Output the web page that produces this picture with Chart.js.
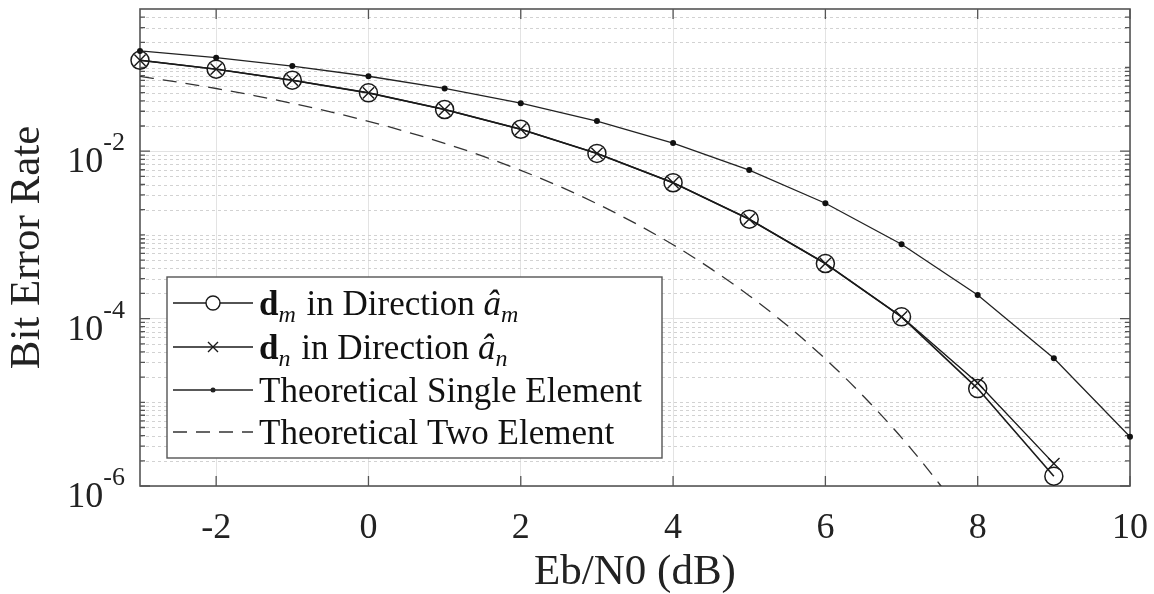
<!DOCTYPE html>
<html>
<head>
<meta charset="utf-8">
<script src="https://cdn.jsdelivr.net/npm/chart.js@4/dist/chart.umd.min.js"></script>
<style>
  html, body { margin: 0; padding: 0; background: #fff; overflow: hidden; }
  #wrap { position: relative; width: 1154px; height: 594px; }
</style>
</head>
<body>
<div id="wrap"><canvas id="berChart"></canvas></div>
<script>
// Eb/N0 points (dB)
const ebn0 = [-3, -2, -1, 0, 1, 2, 3, 4, 5, 6, 7, 8, 9, 10];
// simulated BER (-3 .. 9 dB)
const dmBer = [0.122, 0.0955, 0.0705, 0.0498, 0.0315, 0.0183, 0.0094, 0.0042, 0.00154, 4.55e-4, 1.05e-4, 1.46e-5, 1.31e-6];
const dnBer = [0.122, 0.0955, 0.0705, 0.0498, 0.0315, 0.0183, 0.0094, 0.0042, 0.00154, 4.55e-4, 1.05e-4, 1.7e-5, 1.85e-6];
// theoretical single element (-3 .. 10 dB)
const singleBer = [0.158, 0.131, 0.104, 0.0786, 0.0563, 0.0375, 0.0229, 0.0125, 0.00595, 0.00239, 7.73e-4, 1.91e-4, 3.36e-5, 3.87e-6];
// theoretical two element curve
const twoX = [-3, -2.5, -2, -1.5, -1, -0.5, 0, 0.5, 1, 1.5, 2, 2.5, 3, 3.5, 4, 4.5, 5, 5.5, 6, 6.5, 7, 7.5, 8];
const twoBer = [0.0784, 0.0668, 0.0561, 0.0462, 0.0373, 0.0295, 0.02275, 0.01707, 0.01242, 0.00873, 0.0059, 0.00383, 0.00236, 0.00138, 7.63e-4, 3.93e-4, 1.88e-4, 8.25e-5, 3.3e-5, 1.18e-5, 3.78e-6, 1.05e-6, 2.53e-7];

const xTicks = [-2, 0, 2, 4, 6, 8, 10];
const yTicks = [1e-6, 1e-4, 1e-2];
const yTickExp = ['-6', '-4', '-2'];
const yMin = 1e-6, yMax = 0.5;

const serif = "'Liberation Serif', 'Times New Roman', serif";
const pts = (xs, ys) => ys.map((v, i) => ({ x: xs[i], y: v }));

const berFrame = {
  id: 'berFrame',
  beforeDatasetsDraw(chart) {
    const { ctx, chartArea: a, scales: { x, y } } = chart;
    ctx.save();
    // dotted minor grid
    const minors = [];
    for (let e = -6; e <= -1; e++) {
      for (let k = 1; k <= 9; k++) {
        const v = k * Math.pow(10, e);
        if (v >= yMax * 0.999) continue;
        if (k === 1 && e % 2 === 0) continue;
        minors.push(v);
      }
    }
    ctx.strokeStyle = '#d2d2d2';
    ctx.lineWidth = 1;
    ctx.setLineDash([3, 3]);
    minors.forEach(v => {
      const py = Math.round(y.getPixelForValue(v)) + 0.5;
      ctx.beginPath(); ctx.moveTo(a.left, py); ctx.lineTo(a.right, py); ctx.stroke();
    });
    ctx.setLineDash([]);
    // inward ticks
    ctx.strokeStyle = '#555';
    ctx.lineWidth = 1.3;
    const tick = (v, len) => {
      const py = y.getPixelForValue(v);
      ctx.beginPath();
      ctx.moveTo(a.left, py); ctx.lineTo(a.left + len, py);
      ctx.moveTo(a.right, py); ctx.lineTo(a.right - len, py);
      ctx.stroke();
    };
    minors.forEach(v => tick(v, 5));
    yTicks.forEach(v => tick(v, 10));
    xTicks.forEach(v => {
      const px = x.getPixelForValue(v);
      ctx.beginPath();
      ctx.moveTo(px, a.bottom); ctx.lineTo(px, a.bottom - 10);
      ctx.moveTo(px, a.top); ctx.lineTo(px, a.top + 10);
      ctx.stroke();
    });
    // box
    ctx.lineWidth = 1.6;
    ctx.strokeRect(a.left, a.top, a.right - a.left, a.bottom - a.top);
    // y tick labels with superscripts
    ctx.fillStyle = '#222';
    ctx.textBaseline = 'alphabetic';
    ctx.textAlign = 'right';
    yTicks.forEach((v, i) => {
      const py = y.getPixelForValue(v);
      const rx = a.left - 15;
      ctx.font = '26px ' + serif;
      const sw = ctx.measureText(yTickExp[i]).width;
      ctx.fillText(yTickExp[i], rx, py - 1);
      ctx.font = '36px ' + serif;
      ctx.fillText('10', rx - sw, py + 21);
    });
    ctx.restore();
  },
  afterDatasetsDraw(chart) {
    const { ctx, chartArea: a } = chart;
    ctx.save();
    const bx = a.left + 27, by = 277, bw = 495, bh = 181;
    ctx.fillStyle = '#fff';
    ctx.fillRect(bx, by, bw, bh);
    ctx.strokeStyle = '#555';
    ctx.lineWidth = 1.4;
    ctx.strokeRect(bx, by, bw, bh);
    const rowY = [303, 347, 390, 432];
    const lx0 = bx + 6, lx1 = bx + 86, mx = bx + 46, tx = bx + 92;
    chart.data.datasets.forEach((ds, i) => {
      const cy = rowY[i];
      ctx.strokeStyle = ds.borderColor;
      ctx.lineWidth = ds.borderWidth;
      ctx.setLineDash(ds.borderDash || []);
      ctx.beginPath(); ctx.moveTo(lx0, cy); ctx.lineTo(lx1, cy); ctx.stroke();
      ctx.setLineDash([]);
      ctx.lineWidth = 1.4;
      if (ds.pointStyle === 'circle' && ds.pointRadius > 4) {
        ctx.fillStyle = '#fff';
        ctx.beginPath(); ctx.arc(mx, cy, 7, 0, Math.PI * 2); ctx.fill(); ctx.stroke();
      } else if (ds.pointStyle === 'crossRot') {
        ctx.beginPath();
        ctx.moveTo(mx - 5, cy - 5); ctx.lineTo(mx + 5, cy + 5);
        ctx.moveTo(mx - 5, cy + 5); ctx.lineTo(mx + 5, cy - 5);
        ctx.stroke();
      } else if (ds.pointRadius > 0) {
        ctx.fillStyle = ds.borderColor;
        ctx.beginPath(); ctx.arc(mx, cy, 2.5, 0, Math.PI * 2); ctx.fill();
      }
      // label text
      ctx.fillStyle = '#111';
      ctx.textAlign = 'left';
      ctx.textBaseline = 'alphabetic';
      let cx = tx;
      const base = cy + 12;
      const parts = ds.richLabel || [{ t: ds.label, f: '35px ' + serif, dy: 0 }];
      parts.forEach(p => {
        ctx.font = p.f;
        ctx.fillText(p.t, cx, base + p.dy);
        cx += ctx.measureText(p.t).width + (p.gap || 0);
      });
    });
    ctx.restore();
  }
};

const sub = (s) => ({ t: s, f: 'italic 24px ' + serif, dy: 7, gap: 2 });

new Chart(document.getElementById('berChart'), {
  type: 'line',
  data: {
    datasets: [{
      label: 'dm in Direction âm',
      richLabel: [{ t: 'd', f: 'bold 35px ' + serif, dy: 0 }, sub('m'), { t: ' in Direction ', f: '35px ' + serif, dy: 0 },
                  { t: 'â', f: 'italic 35px ' + serif, dy: 0 }, sub('m')],
      data: pts(ebn0, dmBer),
      borderColor: '#1a1a1a',
      borderWidth: 1.6,
      pointStyle: 'circle',
      pointRadius: 9,
      pointBorderWidth: 1.5,
      pointBackgroundColor: 'rgba(0,0,0,0)',
      pointBorderColor: '#1a1a1a',
      clip: { left: 14, right: 14, top: 14, bottom: 6 }
    }, {
      label: 'dn in Direction ân',
      richLabel: [{ t: 'd', f: 'bold 35px ' + serif, dy: 0 }, sub('n'), { t: ' in Direction ', f: '35px ' + serif, dy: 0 },
                  { t: 'â', f: 'italic 35px ' + serif, dy: 0 }, sub('n')],
      data: pts(ebn0, dnBer),
      borderColor: '#1a1a1a',
      borderWidth: 1.4,
      pointStyle: 'crossRot',
      pointRadius: 8,
      pointBorderWidth: 1.4,
      pointBorderColor: '#1a1a1a',
      clip: { left: 14, right: 14, top: 14, bottom: 6 }
    }, {
      label: 'Theoretical Single Element',
      data: pts(ebn0, singleBer),
      borderColor: '#222',
      borderWidth: 1.3,
      pointStyle: 'circle',
      pointRadius: 3,
      pointBorderWidth: 0,
      pointBackgroundColor: '#111',
      clip: { left: 8, right: 8, top: 8, bottom: 0 }
    }, {
      label: 'Theoretical Two Element',
      data: pts(twoX, twoBer),
      borderColor: '#333',
      borderWidth: 1.3,
      borderDash: [14, 9],
      pointRadius: 0,
      cubicInterpolationMode: 'monotone',
      clip: { left: 0, right: 0, top: 0, bottom: 0 }
    }]
  },
  options: {
    responsive: true,
    maintainAspectRatio: false,
    animation: false,
    events: [],
    layout: { autoPadding: false, padding: { left: 6, right: 24, top: 9, bottom: 0 } },
    scales: {
      x: {
        type: 'linear',
        min: -3,
        max: 10,
        afterBuildTicks: (s) => { s.ticks = xTicks.map(v => ({ value: v })); },
        afterFit: (s) => { s.height = 108; s.paddingLeft = 0; s.paddingRight = 0; },
        grid: { color: '#e3e3e3', lineWidth: 1, drawTicks: false },
        border: { display: false },
        ticks: { color: '#222', padding: 21, maxRotation: 0, font: { family: serif, size: 36 } },
        title: {
          display: true,
          text: 'Eb/N0 (dB)',
          color: '#222',
          padding: 0,
          font: { family: serif, size: 43, lineHeight: 1 }
        }
      },
      y: {
        type: 'logarithmic',
        min: yMin,
        max: yMax,
        afterBuildTicks: (s) => { s.ticks = yTicks.map(v => ({ value: v, major: true })); },
        afterFit: (s) => { s.width = 134; s.paddingTop = 0; s.paddingBottom = 0; },
        grid: { color: '#e3e3e3', lineWidth: 1, drawTicks: false },
        border: { display: false },
        ticks: { display: false },
        title: {
          display: true,
          text: 'Bit Error Rate',
          color: '#222',
          padding: 0,
          font: { family: serif, size: 43, lineHeight: 1 }
        }
      }
    },
    plugins: {
      legend: { display: false },
      tooltip: { enabled: false }
    }
  },
  plugins: [berFrame]
});
</script>
</body>
</html>
